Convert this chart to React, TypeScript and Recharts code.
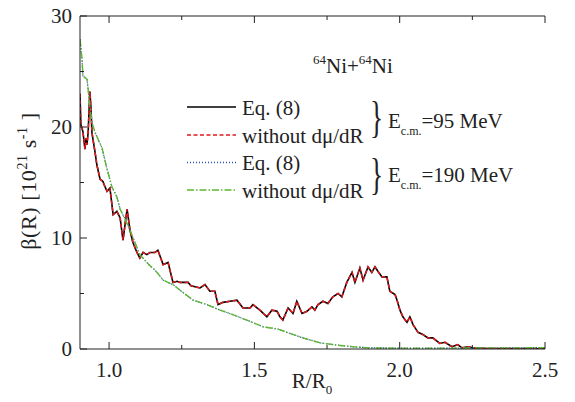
import React from 'react';
import { LineChart, Line, XAxis, YAxis } from 'recharts';

const FONT = "Liberation Serif, DejaVu Serif, serif";

// axis ticks
const xTicks = [1.0, 1.25, 1.5, 1.75, 2.0, 2.25, 2.5];
const xMajor = [1.0, 1.5, 2.0, 2.5];
const yTicks = [0, 5, 10, 15, 20, 25, 30];
const yMajor = [0, 10, 20, 30];

// E_cm = 95 MeV
const r95 = [0.900, 0.903, 0.910, 0.917, 0.921, 0.924, 0.928, 0.934, 0.938, 0.941, 0.952, 0.958, 0.969, 0.979, 0.983, 0.993,
  1.003, 1.014, 1.027, 1.038, 1.048, 1.062, 1.072, 1.082, 1.096, 1.106, 1.117, 1.130, 1.141, 1.158, 1.168, 1.186, 1.203,
  1.220, 1.234, 1.244, 1.254, 1.272, 1.282, 1.296, 1.313, 1.330, 1.347, 1.364, 1.375, 1.392, 1.416, 1.440, 1.461, 1.485,
  1.495, 1.519, 1.543, 1.560, 1.578, 1.588, 1.598, 1.616, 1.633, 1.646, 1.664, 1.681, 1.698, 1.708, 1.719, 1.736, 1.753,
  1.770, 1.788, 1.801, 1.818, 1.836, 1.846, 1.863, 1.874, 1.891, 1.904, 1.915, 1.925, 1.939, 1.956, 1.966, 1.984, 1.991,
  2.001, 2.011, 2.025, 2.035, 2.046, 2.063, 2.080, 2.097, 2.114, 2.138, 2.156, 2.180, 2.200, 2.214, 2.235, 2.252, 2.300,
  2.350, 2.400, 2.450, 2.500];
const eq8_95 = [23.0, 20.2, 19.6, 18.0, 19.0, 18.4, 19.5, 23.2, 21.6, 19.5, 17.7, 16.6, 15.3, 15.1, 14.8, 14.2,
  14.5, 12.1, 12.4, 11.8, 9.8, 12.6, 10.7, 9.6, 8.7, 8.2, 8.7, 8.5, 8.7, 8.7, 8.9, 7.6, 7.8,
  6.0, 6.1, 6.0, 6.0, 6.0, 5.7, 5.6, 5.5, 5.8, 5.2, 5.2, 4.0, 4.2, 4.3, 4.4, 3.7, 3.7,
  4.0, 3.5, 2.9, 3.5, 3.4, 2.9, 2.6, 3.7, 3.2, 4.3, 3.2, 3.4, 3.8, 3.5, 4.0, 4.3, 4.1,
  4.7, 5.0, 4.7, 6.0, 6.9, 6.0, 7.3, 6.2, 7.4, 6.9, 7.4, 7.0, 6.5, 6.5, 5.2, 4.9, 4.4,
  3.5, 2.9, 2.4, 2.9, 2.2, 1.5, 1.3, 1.0, 1.0, 0.5, 0.6, 0.2, 0.4, 0.1, 0.2, 0.1, 0.05,
  0.04, 0.03, 0.03, 0.02];
const noDmu_95 = eq8_95;

// E_cm = 190 MeV
const r190 = [0.900, 0.907, 0.910, 0.924, 0.928, 0.934, 0.941, 0.952, 0.962, 0.976, 0.993, 1.010, 1.027, 1.038, 1.055,
  1.072, 1.089, 1.106, 1.130, 1.141, 1.158, 1.165, 1.186, 1.220, 1.254, 1.289, 1.337, 1.382, 1.426, 1.474, 1.530, 1.581,
  1.612, 1.667, 1.726, 1.784, 1.839, 1.898, 1.991, 2.100, 2.200, 2.300, 2.400, 2.500];
const eq8_190 = [27.9, 26.1, 24.6, 24.3, 23.4, 21.9, 20.4, 19.5, 18.9, 18.1, 16.2, 14.6, 13.7, 12.6, 11.7,
  10.7, 9.6, 8.5, 7.8, 7.5, 7.1, 6.9, 6.2, 5.8, 5.1, 4.4, 4.0, 3.5, 3.1, 2.6, 2.0, 1.8,
  1.5, 1.0, 0.55, 0.35, 0.2, 0.1, 0.08, 0.08, 0.08, 0.1, 0.1, 0.12];
const noDmu_190 = eq8_190;

const toData = (xs: number[], ys: number[]) => xs.map((x, i) => ({ x, y: ys[i] }));
const dEq95 = toData(r95, eq8_95);
const dNo95 = toData(r95, noDmu_95);
const dEq190 = toData(r190, eq8_190);
const dNo190 = toData(r190, noDmu_190);

const AX = '#222';
const isMajor = (arr: number[], v: number) => arr.some((m) => Math.abs(m - v) < 1e-6);

const BottomTick = (p: any) => {
  const { x, y, payload } = p;
  const major = isMajor(xMajor, payload.value);
  return (
    <g>
      <line x1={x} y1={y} x2={x} y2={y - (major ? 7 : 4)} stroke={AX} strokeWidth={1} />
      {major && (
        <text x={x} y={y + 28} textAnchor="middle" fontSize={21} fontFamily={FONT} fill={AX}>
          {Number(payload.value).toFixed(1)}
        </text>
      )}
    </g>
  );
};
const TopTick = (p: any) => {
  const { x, y, payload } = p;
  const major = isMajor(xMajor, payload.value);
  return <line x1={x} y1={y} x2={x} y2={y + (major ? 7 : 4)} stroke={AX} strokeWidth={1} />;
};
const LeftTick = (p: any) => {
  const { x, y, payload } = p;
  const major = isMajor(yMajor, payload.value);
  return (
    <g>
      <line x1={x} y1={y} x2={x + (major ? 7 : 4)} y2={y} stroke={AX} strokeWidth={1} />
      {major && (
        <text x={x - 8} y={y + 7} textAnchor="end" fontSize={21} fontFamily={FONT} fill={AX}>
          {payload.value}
        </text>
      )}
    </g>
  );
};
const RightTick = (p: any) => {
  const { x, y, payload } = p;
  const major = isMajor(yMajor, payload.value);
  return <line x1={x} y1={y} x2={x - (major ? 7 : 4)} y2={y} stroke={AX} strokeWidth={1} />;
};

const RED = '#e3191c';
const BLUE = '#2b4fbf';
const GREEN = '#5cb82e';

export default function App() {
  return (
    <div style={{ position: 'relative', width: 575, height: 402, margin: -8 }}>
      <LineChart width={575} height={402} margin={{ top: 8, right: 30, bottom: 0, left: 0 }}>
        <XAxis xAxisId="b" dataKey="x" type="number" domain={[0.9, 2.5]} allowDataOverflow ticks={xTicks}
          interval={0} tickSize={0} tickMargin={0} height={53} axisLine={{ stroke: AX }} tick={<BottomTick />} />
        <XAxis xAxisId="t" orientation="top" dataKey="x" type="number" domain={[0.9, 2.5]} allowDataOverflow ticks={xTicks}
          interval={0} tickSize={0} tickMargin={0} height={8} axisLine={{ stroke: AX }} tick={<TopTick />} />
        <YAxis yAxisId="l" type="number" domain={[0, 30]} allowDataOverflow ticks={yTicks} interval={0}
          tickSize={0} tickMargin={0} width={80} axisLine={{ stroke: AX }} tick={<LeftTick />} />
        <YAxis yAxisId="r" orientation="right" type="number" domain={[0, 30]} allowDataOverflow ticks={yTicks} interval={0}
          tickSize={0} tickMargin={0} width={0} axisLine={{ stroke: AX }} tick={<RightTick />} />
        <Line xAxisId="b" yAxisId="l" data={dEq95} dataKey="y" type="linear" dot={false} stroke="#000"
          strokeWidth={1.6} isAnimationActive={false} />
        <Line xAxisId="b" yAxisId="l" data={dNo95} dataKey="y" type="linear" dot={false} stroke={RED}
          strokeWidth={1.5} strokeDasharray="4 2.5" isAnimationActive={false} />
        <Line xAxisId="b" yAxisId="l" data={dEq190} dataKey="y" type="linear" dot={false} stroke={BLUE}
          strokeWidth={1.3} strokeDasharray="1 2" isAnimationActive={false} />
        <Line xAxisId="b" yAxisId="l" data={dNo190} dataKey="y" type="linear" dot={false} stroke={GREEN}
          strokeWidth={1.4} strokeDasharray="7 2 1.5 2" isAnimationActive={false} />
      </LineChart>
      <svg width={575} height={402} style={{ position: 'absolute', left: 0, top: 0, pointerEvents: 'none' }}
        fill={AX} fontFamily={FONT}>
        {/* title */}
        <text x={313} y={73} fontSize={21}>
          <tspan fontSize={13} dy={-9}>64</tspan>
          <tspan dy={9}>Ni+</tspan>
          <tspan fontSize={13} dy={-9}>64</tspan>
          <tspan dy={9}>Ni</tspan>
        </text>
        {/* legend */}
        <line x1={187} x2={236} y1={107} y2={107} stroke="#000" strokeWidth={1.6} />
        <text x={242} y={114.5} fontSize={21}>Eq. (8)</text>
        <line x1={187} x2={236} y1={135} y2={135} stroke={RED} strokeWidth={1.5} strokeDasharray="4 2.5" />
        <text x={242} y={142.5} fontSize={21}>without dμ/dR</text>
        <line x1={187} x2={236} y1={162.5} y2={162.5} stroke={BLUE} strokeWidth={1.3} strokeDasharray="1 2" />
        <text x={242} y={170} fontSize={21}>Eq. (8)</text>
        <line x1={187} x2={236} y1={190} y2={190} stroke={GREEN} strokeWidth={1.4} strokeDasharray="7 2 1.5 2" />
        <text x={242} y={197.5} fontSize={21}>without dμ/dR</text>
        {/* braces */}
        <text transform="translate(370,132) scale(0.62,1)" fontSize={44}>{'}'}</text>
        <text transform="translate(370,189) scale(0.62,1)" fontSize={44}>{'}'}</text>
        <text x={388} y={128} fontSize={21}>
          E<tspan fontSize={12} dy={7}>c.m.</tspan><tspan dy={-7}>=95 MeV</tspan>
        </text>
        <text x={388} y={182} fontSize={21}>
          E<tspan fontSize={12} dy={7}>c.m.</tspan><tspan dy={-7}>=190 MeV</tspan>
        </text>
        {/* axis titles */}
        <text x={312} y={388} fontSize={21} textAnchor="middle">
          R/R<tspan fontSize={13} dy={6}>0</tspan>
        </text>
        <text transform="translate(36,181) rotate(-90)" fontSize={22} textAnchor="middle" letterSpacing={0.6}>
          β(R) [10<tspan fontSize={14} dy={-9}>21</tspan><tspan dy={9}> s</tspan>
          <tspan fontSize={14} dy={-9}>-1</tspan><tspan dy={9}> ]</tspan>
        </text>
      </svg>
    </div>
  );
}
